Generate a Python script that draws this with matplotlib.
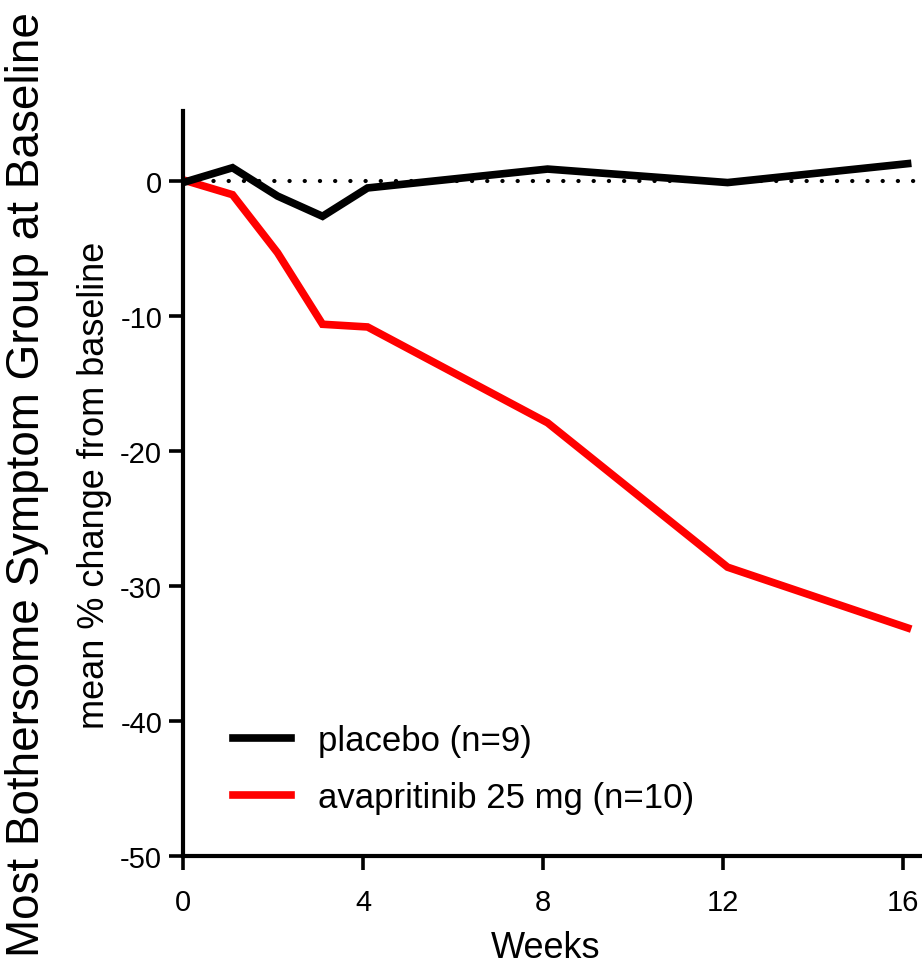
import matplotlib
matplotlib.use("Agg")
import matplotlib.pyplot as plt

plt.rcParams['font.family'] = ['Liberation Sans', 'DejaVu Sans']
plt.rcParams['axes.unicode_minus'] = False

#data
weeks = [0.1, 1.1, 2.1, 3.1, 4.1, 8.1, 12.1, 16.1]
placebo = [0.0, 1.0, -1.1, -2.6, -0.5, 0.9, -0.1, 1.3]
avapritinib = [0.0, -1.0, -5.3, -10.6, -10.8, -17.9, -28.6, -33.1]

x_ticks = [0, 4, 8, 12, 16]
y_ticks = [0, -10, -20, -30, -40, -50]

fig = plt.figure(figsize=(9.22, 9.70), dpi=100)
ax = fig.add_axes([0.1985, 0.1165, 0.8015, 0.768])

ax.axhline(0, color="black", lw=3, linestyle=(0, (0.05, 3.6)), dash_capstyle="round", zorder=1)

ax.plot(weeks, placebo, color="black", lw=5.5, solid_joinstyle="miter", label="placebo (n=9)", zorder=3)
ax.plot(weeks, avapritinib, color="#ff0000", lw=5.5, solid_joinstyle="miter",
        label="avapritinib 25 mg (n=10)", zorder=2)

ax.set_xlim(0, 16.42)
ax.set_ylim(-50, 5.2)
ax.set_xticks(x_ticks)
ax.set_yticks(y_ticks)

for s in ["top", "right"]:
    ax.spines[s].set_visible(False)
for s in ["left", "bottom"]:
    ax.spines[s].set_linewidth(3)

ax.tick_params(axis="both", direction="out", length=10, width=2.6, labelsize=21)
ax.tick_params(axis="x", pad=13)
ax.tick_params(axis="y", pad=5)

#x label placed by hand so it sits at the very bottom like the original
fig.text(0.592, 0.012, "Weeks", ha="center", va="baseline", fontsize=26)

fig.text(0.029, 0.5, "Most Bothersome Symptom Group at Baseline", rotation=90,
         ha="center", va="center", fontsize=33)
fig.text(0.102, 0.5, "mean % change from baseline", rotation=90,
         ha="center", va="center", fontsize=26)

ax.legend(loc="center left", bbox_to_anchor=(0.068, 0.117), frameon=False, fontsize=25,
          handlelength=1.65, handletextpad=0.8, labelspacing=0.7, borderpad=0, borderaxespad=0)

plt.savefig("out.png", dpi=100)
